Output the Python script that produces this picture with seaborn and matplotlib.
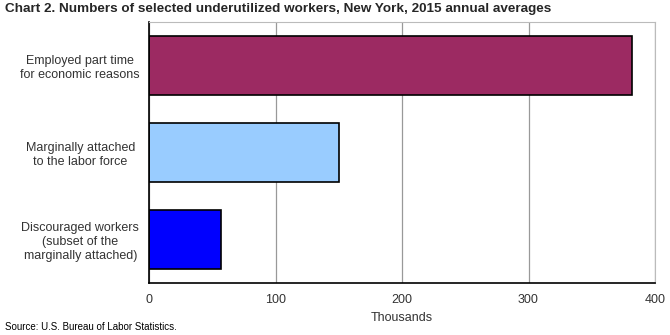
import matplotlib
matplotlib.use("Agg")
import matplotlib.pyplot as plt
import seaborn as sns
import pandas as pd

categories = ["Employed part time\nfor economic reasons",
              "Marginally attached\nto the labor force",
              "Discouraged workers\n(subset of the\nmarginally attached)"]
values = [382, 150, 57]
colors = ["#9C2A62", "#99CCFF", "#0000FF"]
xticks = [0, 100, 200, 300, 400]

sns.set_theme(style="white")
plt.rcParams['font.family'] = ['Liberation Sans', 'DejaVu Sans']

df = pd.DataFrame({"cat": categories, "val": values})

fig = plt.figure(figsize=(6.7, 3.35), dpi=100)
ax = fig.add_axes([149/670, 1-283/335, (655-149)/670, (283-22)/335])
sns.barplot(data=df, y="cat", x="val", hue="cat", palette=colors, legend=False,
            orient="h", width=0.67, edgecolor="black", linewidth=1.2, ax=ax, saturation=1)
ax.set_xlim(0, 400)
ax.set_xticks(xticks)
ax.set_xticklabels([str(t) for t in xticks], fontsize=9, color="#333333")
ax.tick_params(axis="y", labelsize=9, labelcolor="#333333", length=0, pad=49.5)
ax.tick_params(axis="x", length=0, pad=8)
for lbl in ax.get_yticklabels():
    lbl.set_horizontalalignment("center")
    lbl.set_multialignment("center")
ax.set_ylabel("")
ax.set_xlabel("Thousands", fontsize=9, color="#333333", labelpad=4)
ax.xaxis.grid(True, color="#999999", linewidth=0.9)
ax.set_axisbelow(True)
for s in ["top", "right"]:
    ax.spines[s].set_color("#BBBBBB")
    ax.spines[s].set_linewidth(0.8)
for s in ["left", "bottom"]:
    ax.spines[s].set_color("black")
    ax.spines[s].set_linewidth(1.2)

fig.text(5/670, 1-9/335, "Chart 2. Numbers of selected underutilized workers, New York, 2015 annual averages",
         fontsize=9.7, fontweight="bold", va="center", ha="left",
         family=['Liberation Sans Narrow', 'Liberation Sans', 'DejaVu Sans'])
fig.text(5/670, 1-327/335, "Source: U.S. Bureau of Labor Statistics.", fontsize=7, va="center", ha="left", color="black")

fig.savefig("out.png", dpi=100)
